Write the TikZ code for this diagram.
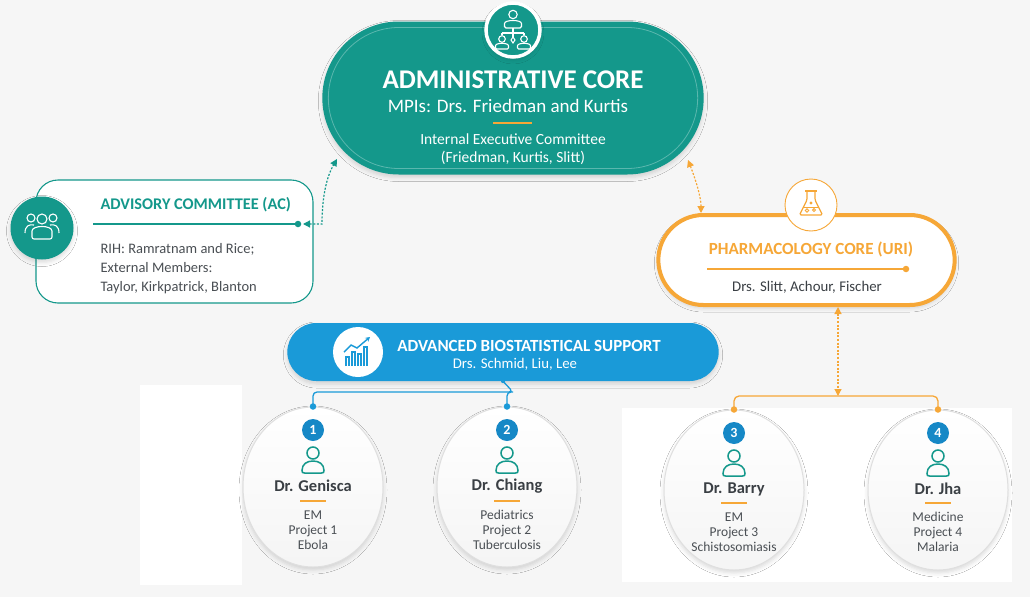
\documentclass[tikz,border=0pt]{standalone}
\usepackage{fontspec}
\setmainfont{Carlito}
\usepackage{xcolor}
\usetikzlibrary{arrows.meta, shapes.misc, shapes.geometric, shadows.blur}

\definecolor{bgc}{HTML}{F6F6F6}
\definecolor{tealc}{HTML}{14988B}
\definecolor{orangec}{HTML}{F6A737}
\definecolor{bluec}{HTML}{1A9AD8}
\definecolor{badgec}{HTML}{1688C6}
\definecolor{darkc}{HTML}{3A3F44}
\definecolor{greyc}{HTML}{4A4F54}

\tikzset{
  pics/person/.style={code={
    \draw[#1, line width=1.5] (0,-7) circle (6);
    \draw[#1, line width=1.5] (-8.5,13) .. controls (-10.5,13) and (-11,12.5) .. (-11,10.5)
      .. controls (-11,4) and (-6,1) .. (0,1) .. controls (6,1) and (11,4) .. (11,10.5)
      .. controls (11,12.5) and (10.5,13) .. (8.5,13) -- cycle;
  }}
}

\begin{document}
\begin{tikzpicture}[x=1pt, y=-1pt,
    softshadow/.style={blur shadow={shadow xshift=0pt, shadow yshift=-3pt, shadow blur radius=4pt, shadow opacity=14}},
    projcircle/.style={ellipse, draw=gray!25, line width=1, top color=white, bottom color=gray!8, minimum width=140, minimum height=160, softshadow},
    badge/.style={circle, fill=badgec, minimum size=22, inner sep=0, text=white, font=\bfseries\fontsize{14}{14}\selectfont},
    drname/.style={text=darkc, font=\bfseries\fontsize{16.5}{18}\selectfont},
    drinfo/.style={text=greyc, align=center, font=\fontsize{13.5}{15}\selectfont},
    tiplink/.style={line width=1.2, dash pattern=on 2pt off 1.6pt},
    dot/.style={circle, fill=#1, inner sep=0, minimum size=6.5}
  ]
  \useasboundingbox (0,0) rectangle (1030,597);
  \fill[bgc] (0,0) rectangle (1030,597);
  \fill[white] (140,385) rectangle (242,585);
  \fill[white] (622,408) rectangle (1012,582);

  % administrative core
  \node[rounded rectangle, fill=tealc, minimum width=388, minimum height=153, softshadow] (ad) at (513,98) {};
  \node[rounded rectangle, draw=white, draw opacity=0.3, line width=0.8, minimum width=376, minimum height=141] (adrim) at (513,98) {};
  \node[circle, fill=tealc, draw=white, line width=3.5, minimum size=54, softshadow] (adicon) at (513,30) {};
  \draw[white, line width=1.1] (513,14.5) circle (4.2);
  \draw[white, line width=1.1, rounded corners=1.5] (504.5,28) -- (504.5,25) .. controls (504.5,19.5) and (521.5,19.5) .. (521.5,25) -- (521.5,28) -- cycle;
  \draw[white, line width=1.1] (513,28) -- (513,37) (502,33) -- (524,33) (502,33) -- (502,35) (524,33) -- (524,35);
  \draw[white, line width=1] (513,37) -- (511,40) -- (513,43) -- (515,40) -- cycle;
  \draw[white, line width=1.1] (502,39) circle (3.3) (524,39) circle (3.3);
  \draw[white, line width=1.1, rounded corners=1.2] (495.5,49) -- (495.5,47) .. controls (495.5,42.5) and (508.5,42.5) .. (508.5,47) -- (508.5,49) -- cycle;
  \draw[white, line width=1.1, rounded corners=1.2] (517.5,49) -- (517.5,47) .. controls (517.5,42.5) and (530.5,42.5) .. (530.5,47) -- (530.5,49) -- cycle;
  \node[text=white, font=\bfseries\fontsize{27}{28}\selectfont] (adtitle) at (513,80) {ADMINISTRATIVE CORE};
  \node[text=white, font=\fontsize{19}{20}\selectfont] (admpi) at (508,106) {MPIs: Drs. Friedman and Kurtis};
  \draw[orangec, line width=2] (493,123) -- (532,123);
  \node[text=white, align=center, font=\fontsize{15.5}{17.5}\selectfont] (adiec) at (513,149) {Internal Executive Committee\\(Friedman, Kurtis, Slitt)};

  % advisory committee
  \node[rectangle, rounded corners=22, draw=tealc, line width=1.1, fill=white, minimum width=277, minimum height=123] (ac) at (174.5,241.5) {};
  \node[circle, fill=tealc, minimum size=63, softshadow] (acicon) at (42,228) {};
  \draw[white, line width=1.1] (42,219) circle (5) (31,218) circle (4) (53,218) circle (4);
  \draw[white, line width=1.1, rounded corners=2] (32,239) -- (32,233) .. controls (32,225) and (52,225) .. (52,233) -- (52,239) -- cycle;
  \draw[white, line width=1.1] (25,233) .. controls (25,226) and (29,224) .. (34,225);
  \draw[white, line width=1.1] (59,233) .. controls (59,226) and (55,224) .. (50,225);
  \node[anchor=west, text=tealc, font=\bfseries\fontsize{16.3}{17}\selectfont] (actitle) at (97,205) {ADVISORY COMMITTEE (AC)};
  \coordinate (acl) at (93,224);
  \node[dot=tealc] (acdot) at (298,224) {};
  \draw[tealc, line width=1.2] (acl) -- (acdot);
  \node[anchor=west, text=greyc, align=left, font=\fontsize{14.5}{19}\selectfont] (acbody) at (97,269) {RIH: Ramratnam and Rice;\\External Members:\\Taylor, Kirkpatrick, Blanton};

  % pharmacology core
  \node[rounded rectangle, draw=orangec, line width=4, fill=white, minimum width=303, minimum height=90, softshadow] (ph) at (806.5,260) {};
  \node[circle, draw=orangec, line width=0.9, fill=white, minimum size=52] (phicon) at (811,205) {};
  \draw[orangec, line width=1.2, rounded corners=1] (805,191) -- (817,191);
  \draw[orangec, line width=1.2, rounded corners=1.5] (807,192) -- (807,200) -- (799.5,215) -- (822.5,215) -- (815,200) -- (815,192);
  \draw[orangec, line width=1] (803,207) -- (819,207);
  \draw[orangec, line width=0.9] (807,210.5) circle (1.8) (814,210) circle (1.4) (811,203) circle (1);
  \node[text=orangec, font=\bfseries\fontsize{17}{18}\selectfont] (phtitle) at (811,249) {PHARMACOLOGY CORE (URI)};
  \coordinate (phl) at (707,269);
  \node[dot=orangec] (phdot) at (906,269) {};
  \draw[orangec, line width=1.2] (phl) -- (phdot);
  \node[text=darkc, font=\fontsize{14.8}{16}\selectfont] (phdrs) at (807,287) {Drs. Slitt, Achour, Fischer};

  % biostatistics
  \node[rounded rectangle, fill=bluec, minimum width=438, minimum height=58, softshadow] (bio) at (503,352) {};
  \node[circle, fill=white, minimum size=50] (bioicon) at (358,352) {};
  \draw[bluec, line width=1.1] (346,366) -- (346,357) -- (349,357) -- (349,366)
    (352,366) -- (352,352) -- (355,352) -- (355,366)
    (358,366) -- (358,354) -- (361,354) -- (361,366)
    (364,366) -- (364,347) -- (367,347) -- (367,366);
  \draw[bluec, line width=1.4, -{Stealth[length=4.5, width=5]}] (344,352) -- (351,345) -- (357,348) -- (370,337);
  \node[text=white, font=\bfseries\fontsize{17}{18}\selectfont] (biotitle) at (529,346) {ADVANCED BIOSTATISTICAL SUPPORT};
  \node[text=white, font=\fontsize{14.8}{16}\selectfont] (biodrs) at (515,364) {Drs. Schmid, Liu, Lee};

  % projects
  \node[projcircle] (g1) at (313,487) {};
  \node[projcircle] (g2) at (507,487) {};
  \node[projcircle] (g3) at (734,490) {};
  \node[projcircle] (g4) at (938,490) {};

  \node[badge] (b1) at (313,430) {1};
  \pic at (313,460) {person=tealc};
  \node[drname] (n1) at (313,486) {Dr. Genisca};
  \draw[orangec, line width=1.8] (300,501) -- (326,501);
  \node[drinfo] (i1) at (313,530) {EM\\Project 1\\Ebola};

  \node[badge] (b2) at (507,430) {2};
  \pic at (507,460) {person=tealc};
  \node[drname] (n2) at (507,486) {Dr. Chiang};
  \draw[orangec, line width=1.8] (494,501) -- (520,501);
  \node[drinfo] (i2) at (507,530) {Pediatrics\\Project 2\\Tuberculosis};

  \node[badge] (b3) at (734,433) {3};
  \pic at (734,463) {person=tealc};
  \node[drname] (n3) at (734,489) {Dr. Barry};
  \draw[orangec, line width=1.8] (721,503) -- (747,503);
  \node[drinfo] (i3) at (734,532) {EM\\Project 3\\Schistosomiasis};

  \node[badge] (b4) at (938,433) {4};
  \pic at (938,463) {person=tealc};
  \node[drname] (n4) at (938,489) {Dr. Jha};
  \draw[orangec, line width=1.8] (925,503) -- (951,503);
  \node[drinfo] (i4) at (938,532) {Medicine\\Project 4\\Malaria};

  % connectors
  \coordinate (bj) at (513,392);
  \draw[bluec, line width=1.3, rounded corners=4] (bio.south) -- (bj) -| (g1.north);
  \draw[bluec, line width=1.3, rounded corners=4] (bj) -| (g2.north);
  \node[dot=bluec, minimum size=4] (bjdot) at (bio.south) {};
  \node[dot=bluec] (g1dot) at (g1.north) {};
  \node[dot=bluec] (g2dot) at (g2.north) {};

  \coordinate (pj) at (838,396);
  \draw[orangec, line width=1.3, rounded corners=5] (g3.north) |- (pj) -| (g4.north);
  \draw[orangec, tiplink, {Triangle[length=7, width=7]}-{Triangle[length=7, width=7]}] (ph.south -| pj) -- (pj);
  \node[dot=orangec] (g3dot) at (g3.north) {};
  \node[dot=orangec] (g4dot) at (g4.north) {};

  \coordinate (adl) at (337,159);
  \coordinate (acr) at (303,224);
  \draw[tealc, tiplink, {Triangle[length=7, width=7]}-{Triangle[length=7, width=7]}] (acr) -- (322,224) .. controls (322,196) and (327,176) .. (adl);

  \coordinate (adr) at (688,160);
  \coordinate (phr) at (701,213);
  \draw[orangec, tiplink, {Triangle[length=7, width=7]}-{Triangle[length=7, width=7]}] (adr) .. controls (695,178) and (701,196) .. (phr);
\end{tikzpicture}
\end{document}
